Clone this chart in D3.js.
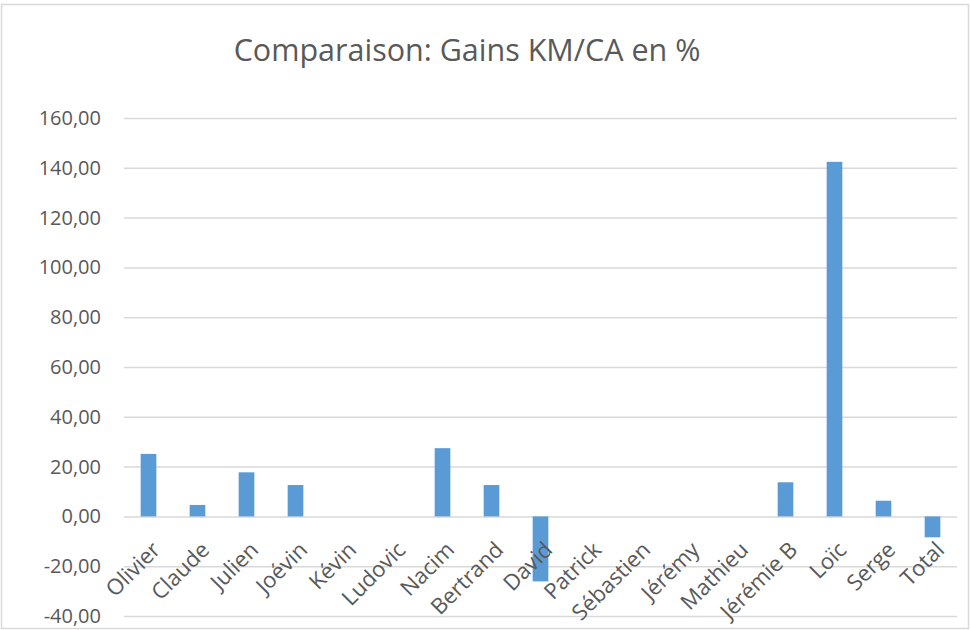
<!DOCTYPE html>
<html>
<head>
<meta charset="utf-8">
<script src="https://cdn.jsdelivr.net/npm/d3@7"></script>
<style>
  body { margin: 0; background: #fff; }
  text { font-family: "Open Sans", sans-serif; fill: #595959; }
</style>
</head>
<body>
<div id="chart"></div>
<script>
var w = 971; // Define width
var h = 630; // Define height

// Chart data
var categories = ["Olivier", "Claude", "Julien", "Joévin", "Kévin", "Ludovic", "Nacim", "Bertrand", "David",
    "Patrick", "Sébastien", "Jérémy", "Mathieu", "Jérémie B", "Loïc", "Serge", "Total"];
var gains = [25.1, 4.6, 17.7, 12.6, 0, 0, 27.4, 12.6, -26.1, 0, 0, 0, 0, 13.7, 142.4, 6.3, -8.4];
var yTicks = [-40, -20, 0, 20, 40, 60, 80, 100, 120, 140, 160];

var plotLeft = 124, plotRight = 957, plotTop = 118, plotBottom = 616;

var svg = d3.select("#chart")
    .append("svg")
    .attr("width", w)
    .attr("height", h);

// Chart border
svg.append("rect")
    .attr("x", 1.5)
    .attr("y", 4.5)
    .attr("width", 967)
    .attr("height", 624)
    .attr("fill", "#fff")
    .attr("stroke", "#d9d9d9")
    .attr("stroke-width", 1.5);

// Title
svg.append("text")
    .attr("x", 467)
    .attr("y", 61)
    .attr("text-anchor", "middle")
    .style("font-size", "30.5px")
    .text("Comparaison: Gains KM/CA en %");

var xScale = d3.scaleBand()
    .domain(categories)
    .range([plotLeft, plotRight])
    .paddingInner(0.68)
    .paddingOuter(0.34);

var yScale = d3.scaleLinear()
    .domain([-40, 160])
    .range([plotBottom, plotTop]);

// Gridlines and y labels
var yAxis = svg.append("g")
    .attr("transform", "translate(" + plotLeft + ",0)")
    .call(d3.axisLeft(yScale)
        .tickValues(yTicks)
        .tickSize(-(plotRight - plotLeft))
        .tickPadding(23)
        .tickFormat(function(d) { return d3.format(".2f")(d).replace(".", ",").replace("−", "-"); }));

yAxis.select(".domain").remove();
yAxis.selectAll("line")
    .attr("stroke", "#d9d9d9")
    .attr("stroke-width", 1.5);
yAxis.selectAll("text")
    .style("font-size", "20px")
    .attr("fill", "#595959");

// Bars
svg.selectAll("rect.bar")
    .data(gains)
    .enter()
    .append("rect")
    .attr("class", "bar")
    .attr("x", function(d, i) { return xScale(categories[i]); })
    .attr("y", function(d) { return yScale(Math.max(0, d)); })
    .attr("width", xScale.bandwidth())
    .attr("height", function(d) { return Math.abs(yScale(d) - yScale(0)); })
    .attr("fill", "#5b9bd5");

// Category labels (rotated)
svg.selectAll("text.cat")
    .data(categories)
    .enter()
    .append("text")
    .attr("class", "cat")
    .attr("text-anchor", "end")
    .attr("dy", "0.72em")
    .attr("transform", function(d) {
        var cx = xScale(d) + xScale.bandwidth() / 2;
        return "translate(" + (cx + 2) + ",540) rotate(-45)";
    })
    .style("font-size", "22px")
    .text(function(d) { return d; });
</script>
</body>
</html>
